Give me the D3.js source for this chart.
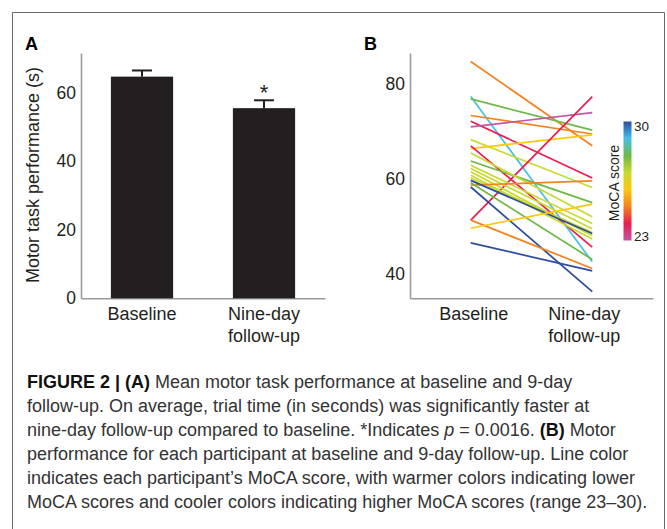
<!DOCTYPE html>
<html><head><meta charset="utf-8">
<script src="https://cdn.jsdelivr.net/npm/d3@7"></script>
<style>
body{margin:0;background:#fff;}
svg text{font-family:"Liberation Sans",Arial,Helvetica,sans-serif;}
</style>
</head><body>
<svg id="chart" width="667" height="529"></svg>
<script>
// ---------- Data ----------
const barCategories = ["Baseline", "Nine-day follow-up"];
const barMeans = [64.7, 55.5];
const barErrors = [1.8, 2.3];
const barTicks = [0, 20, 40, 60];

const lineTimepoints = ["Baseline", "Nine-day follow-up"];
const baselineValues = [84.8, 77.4, 76.9, 73.4, 72.2, 71.0, 68.3, 66.4, 67.0, 51.3, 63.8, 65.5, 62.9, 62.2, 61.5, 60.8, 60.2, 58.7, 59.7, 58.3, 59.2, 51.3, 49.6, 46.5];
const followupValues = [67.0, 42.5, 70.3, 69.5, 60.2, 74.0, 58.2, 69.3, 45.6, 77.4, 55.0, 52.0, 50.6, 49.5, 48.0, 47.3, 48.7, 59.6, 48.5, 36.2, 43.0, 41.1, 54.7, 40.6];
const mocaScores = [25, 29, 28, 25, 24, 23, 27, 26, 24, 24, 28, 27, 27, 27, 27, 27, 27, 25, 30, 30, 28, 25, 26, 30];
const lineTicks = [40, 60, 80];

const mocaStops = [30, 29, 28, 27, 26, 25, 24, 23];
const mocaColors = ["#2b4c9f", "#47c0ea", "#6cb945", "#c8d92f", "#fcc80d", "#f5821f", "#ec1b4f", "#c156a4"];
const mocaLabels = ["30", "23"];

const captionLines = [
  [["FIGURE 2 | (A)", "b"], [" Mean motor task performance at baseline and 9-day", "n"]],
  [["follow-up. On average, trial time (in seconds) was significantly faster at", "n"]],
  [["nine-day follow-up compared to baseline. *Indicates ", "n"], ["p", "i"], [" = 0.0016. ", "n"], ["(B)", "b"], [" Motor", "n"]],
  [["performance for each participant at baseline and 9-day follow-up. Line color", "n"]],
  [["indicates each participant\u2019s MoCA score, with warmer colors indicating lower", "n"]],
  [["MoCA scores and cooler colors indicating higher MoCA scores (range 23\u201330).", "n"]]
];

// ---------- Setup ----------
const svg = d3.select("#chart");
svg.append("rect").attr("width", 667).attr("height", 529).attr("fill", "#fff");

// frame
svg.append("path")
  .attr("d", "M12.5,529V12.5H664.5V529")
  .attr("fill", "none").attr("stroke", "#6a6a6a").attr("stroke-width", 1);

const txt = "#231f20";
const axisGray = "#9a9a9a";

function styleAxis(g) {
  g.select(".domain").attr("stroke", axisGray).attr("stroke-width", 1.6);
  g.selectAll(".tick line").remove();
  g.selectAll(".tick text").attr("fill", txt).style("font-size", "17.5px");
}

// ---------- Panel A ----------
const yA = d3.scaleLinear().domain([0, 71.6]).range([298.3, 53]);
const xA = d3.scaleBand().domain(barCategories).range([81, 325]).paddingInner(0.49).paddingOuter(0.245);

svg.append("g").attr("transform", "translate(81,0)")
  .call(d3.axisLeft(yA).tickValues(barTicks).tickSize(0).tickPadding(5).tickSizeOuter(0))
  .call(styleAxis);
svg.append("g").attr("transform", "translate(0,298.3)")
  .call(d3.axisBottom(xA).tickSize(0).tickSizeOuter(0).tickFormat(""))
  .call(styleAxis);

const gA = svg.append("g");
barCategories.forEach((c, i) => {
  const x0 = xA(c), bw = xA.bandwidth(), cx = x0 + bw / 2;
  const top = yA(barMeans[i] + barErrors[i]);
  gA.append("line").attr("x1", cx).attr("x2", cx).attr("y1", yA(barMeans[i])).attr("y2", top)
    .attr("stroke", txt).attr("stroke-width", 2);
  gA.append("line").attr("x1", cx - 10).attr("x2", cx + 10).attr("y1", top).attr("y2", top)
    .attr("stroke", txt).attr("stroke-width", 2);
  gA.append("rect").attr("x", x0).attr("y", yA(barMeans[i])).attr("width", bw)
    .attr("height", yA(0) - yA(barMeans[i])).attr("fill", txt);
  const words = c === "Baseline" ? ["Baseline"] : ["Nine-day", "follow-up"];
  words.forEach((w, k) => {
    gA.append("text").attr("x", cx).attr("y", 320 + k * 22).attr("text-anchor", "middle")
      .attr("fill", txt).style("font-size", "18px").text(w);
  });
});
// significance star
gA.append("text")
  .attr("x", xA(barCategories[1]) + xA.bandwidth() / 2)
  .attr("y", yA(barMeans[1] + barErrors[1]) - 0.5)
  .attr("text-anchor", "middle").attr("fill", txt).style("font-size", "22px").text("*");

svg.append("text").attr("transform", "translate(39,175) rotate(-90)")
  .attr("text-anchor", "middle").attr("fill", txt).style("font-size", "18px")
  .text("Motor task performance (s)");
svg.append("text").attr("x", 25).attr("y", 49.5).attr("fill", "#000")
  .style("font-size", "18px").style("font-weight", "bold").text("A");

// ---------- Panel B ----------
const yB = d3.scaleLinear().domain([34.8, 86.6]).range([298.3, 53]);
const xB = d3.scalePoint().domain(lineTimepoints).range([410, 653]).padding(0.5);
const color = d3.scaleLinear().domain(mocaStops).range(mocaColors);

svg.append("g").attr("transform", "translate(410,0)")
  .call(d3.axisLeft(yB).tickValues(lineTicks).tickSize(0).tickPadding(5).tickSizeOuter(0))
  .call(styleAxis);
svg.append("g").attr("transform", "translate(0,298.3)")
  .call(d3.axisBottom(xB).tickSize(0).tickSizeOuter(0).tickFormat(""))
  .call(styleAxis);

const gB = svg.append("g");
baselineValues.forEach((b, i) => {
  gB.append("line")
    .attr("x1", xB(lineTimepoints[0])).attr("y1", yB(b))
    .attr("x2", xB(lineTimepoints[1])).attr("y2", yB(followupValues[i]))
    .attr("stroke", color(mocaScores[i])).attr("stroke-width", 1.7)
    .attr("stroke-linecap", "butt");
});
const labelShift = [3, -8];
lineTimepoints.forEach((c, i) => {
  const words = c === "Baseline" ? ["Baseline"] : ["Nine-day", "follow-up"];
  words.forEach((w, k) => {
    gB.append("text").attr("x", xB(c) + labelShift[i]).attr("y", 320 + k * 22).attr("text-anchor", "middle")
      .attr("fill", txt).style("font-size", "18px").text(w);
  });
});
svg.append("text").attr("x", 364).attr("y", 49.5).attr("fill", "#000")
  .style("font-size", "18px").style("font-weight", "bold").text("B");

// colour bar
const defs = svg.append("defs");
const grad = defs.append("linearGradient").attr("id", "mocaGrad")
  .attr("x1", 0).attr("y1", 0).attr("x2", 0).attr("y2", 1);
mocaStops.forEach((m, i) => {
  grad.append("stop").attr("offset", (30 - m) / 7).attr("stop-color", mocaColors[i]);
});
const cbY = d3.scaleLinear().domain([30, 23]).range([121.5, 240.5]);
svg.append("rect").attr("x", 623.5).attr("y", cbY(30)).attr("width", 8)
  .attr("height", cbY(23) - cbY(30)).attr("fill", "url(#mocaGrad)");
[30, 23].forEach((m, i) => {
  svg.append("text").attr("x", 634).attr("y", cbY(m) + (i === 0 ? 5 : -4)).attr("dy", "0.35em")
    .attr("fill", txt).style("font-size", "13.5px").text(mocaLabels[i]);
});
svg.append("text").attr("transform", "translate(619,183) rotate(-90)")
  .attr("text-anchor", "middle").attr("fill", txt).style("font-size", "14px").text("MoCA score");

// ---------- Caption ----------
const cap = svg.append("g");
captionLines.forEach((segs, li) => {
  const t = cap.append("text").attr("x", 27).attr("y", 388 + li * 24)
    .attr("fill", "#333").style("font-size", "18px");
  segs.forEach(([s, st]) => {
    const sp = t.append("tspan").text(s);
    if (st === "b") sp.style("font-weight", "bold").attr("fill", "#111");
    if (st === "i") sp.style("font-style", "italic");
  });
});
</script>
</body></html>
